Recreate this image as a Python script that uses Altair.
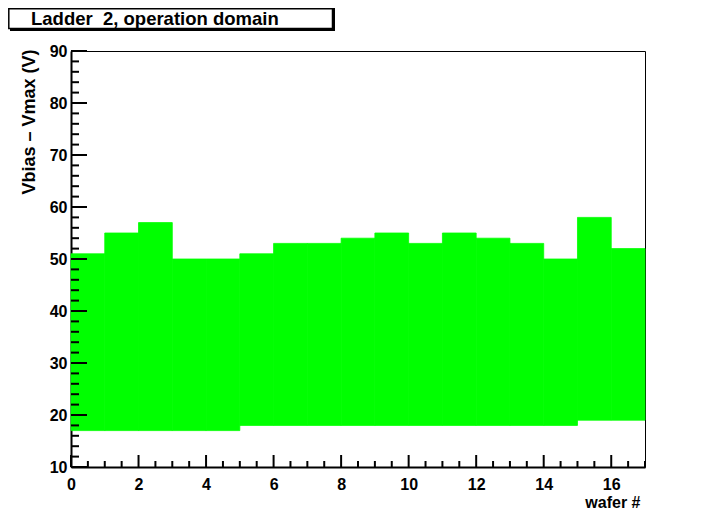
import altair as alt
import pandas as pd

# Data
wafer = list(range(17))
v_low = [17, 17, 17, 17, 17, 18, 18, 18, 18, 18, 18, 18, 18, 18, 18, 19, 19]
v_high = [51, 55, 57, 50, 50, 51, 53, 53, 54, 55, 53, 55, 54, 53, 50, 58, 52]

x_labels = [0, 2, 4, 6, 8, 10, 12, 14, 16]
y_labels = [10, 20, 30, 40, 50, 60, 70, 80, 90]
x_minor = [v / 2 for v in range(0, 35) if v % 4 != 0]
y_minor = [v for v in range(10, 91, 2) if v % 10 != 0]

title_text = "Ladder \u00a02, operation domain"
y_title = "Vbias \u2013 Vmax (V)"
x_title = "wafer #"

W, H = 574, 416
FONT = "Liberation Sans"

xscale = alt.Scale(domain=[0, 17], nice=False, zero=False)
yscale = alt.Scale(domain=[10, 90], nice=False, zero=False)

x_axis = alt.Axis(values=x_labels, title=x_title, grid=False, ticks=False,
                  labelFont=FONT, labelFontSize=16, labelFontWeight="bold",
                  labelColor="black", labelPadding=9, labelFlush=False,
                  domainColor="black", domainWidth=2,
                  titleFont=FONT, titleFontSize=16, titleFontWeight="bold",
                  titleColor="black", titleAnchor="end", titleAlign="right",
                  titleBaseline="middle", titleX=W - 5, titleY=35)
y_axis = alt.Axis(values=y_labels, title=y_title, grid=False, ticks=False,
                  labelFont=FONT, labelFontSize=16, labelFontWeight="bold",
                  labelColor="black", labelPadding=4, labelFlush=False,
                  domainColor="black", domainWidth=2,
                  titleFont=FONT, titleFontSize=18, titleFontWeight="bold",
                  titleColor="black", titleAngle=270, titleAlign="right",
                  titleBaseline="middle", titleX=-42, titleY=-2)

bars_df = pd.DataFrame({"wafer": wafer, "lo": v_low, "hi": v_high})

bars = alt.Chart(bars_df).transform_calculate(
    wafer2="datum.wafer + 1"
).mark_rect(color="#00ff00", stroke="#00ff00", strokeWidth=0.8).encode(
    x=alt.X("wafer:Q", scale=xscale, axis=x_axis),
    x2="wafer2:Q",
    y=alt.Y("lo:Q", scale=yscale, axis=y_axis),
    y2="hi:Q",
)

xmaj = alt.Chart(pd.DataFrame({"v": x_labels})).mark_rule(color="black", strokeWidth=2).encode(
    x=alt.X("v:Q", scale=xscale, axis=x_axis), y=alt.value(H), y2=alt.value(H - 12))
xmin = alt.Chart(pd.DataFrame({"v": x_minor})).mark_rule(color="black", strokeWidth=2).encode(
    x=alt.X("v:Q", scale=xscale, axis=x_axis), y=alt.value(H), y2=alt.value(H - 6))
ymaj = alt.Chart(pd.DataFrame({"v": y_labels})).mark_rule(color="black", strokeWidth=2).encode(
    y=alt.Y("v:Q", scale=yscale, axis=y_axis), x=alt.value(0), x2=alt.value(16))
ymin = alt.Chart(pd.DataFrame({"v": y_minor})).mark_rule(color="black", strokeWidth=2).encode(
    y=alt.Y("v:Q", scale=yscale, axis=y_axis), x=alt.value(0), x2=alt.value(8))

shadow = alt.Chart(pd.DataFrame({"a": [0]})).mark_rect(color="black").encode(
    x=alt.value(-61), x2=alt.value(264), y=alt.value(-43), y2=alt.value(-20))
box = alt.Chart(pd.DataFrame({"a": [0]})).mark_rect(
    fill="white", stroke="black", strokeWidth=1.5).encode(
    x=alt.value(-62.2), x2=alt.value(261.5), y=alt.value(-42.2), y2=alt.value(-22.5))
title = alt.Chart(pd.DataFrame({"a": [0]})).mark_text(
    font=FONT, fontSize=18.5, fontWeight="bold", color="black",
    align="left", baseline="middle").encode(
    x=alt.value(-40), y=alt.value(-32), text=alt.value(title_text))

chart = alt.layer(bars, xmin, xmaj, ymin, ymaj, shadow, box, title).properties(
    width=W, height=H,
    autosize=alt.AutoSizeParams(type="none"),
    padding={"left": 63, "top": 43, "right": 64, "bottom": 44},
    background="white",
).configure_view(stroke="black", strokeWidth=1)

chart.save("out.html", embed_options={"renderer": "svg", "actions": False})
